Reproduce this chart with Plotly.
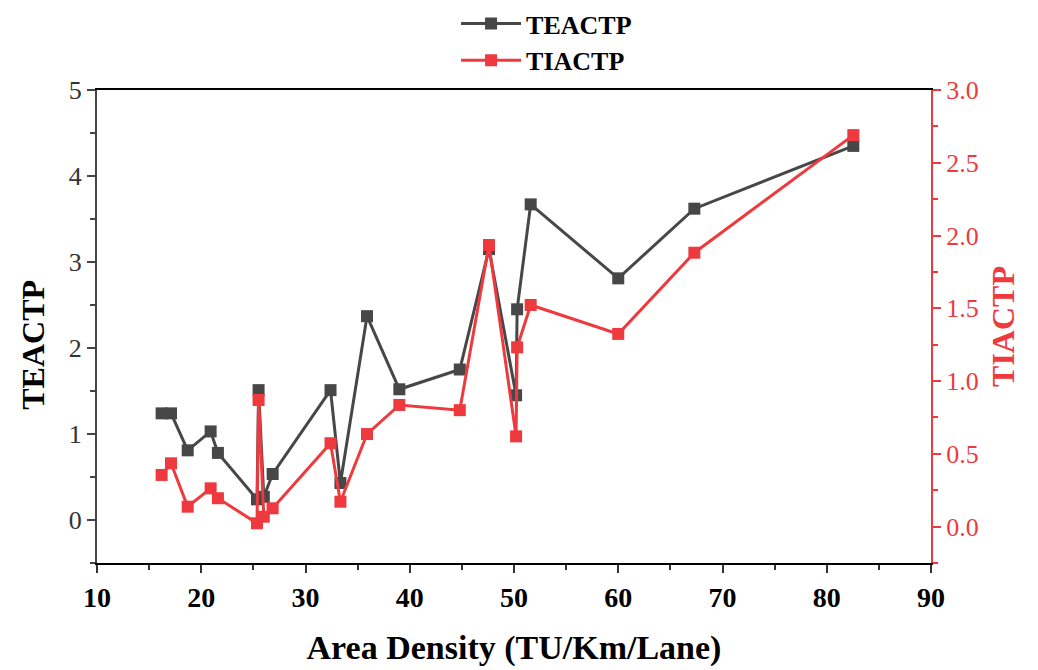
import plotly.graph_objects as go

area_density = [16.2, 17.1, 18.7, 20.9, 21.6, 25.35, 25.5, 26.0, 26.85, 32.4, 33.35,
                35.9, 39.0, 44.8, 47.6, 50.2, 50.3, 51.6, 60.0, 67.3, 82.55]
teactp = [1.24, 1.24, 0.81, 1.03, 0.78, 0.24, 1.51, 0.27, 0.535, 1.51, 0.43,
          2.37, 1.52, 1.75, 3.15, 1.45, 2.45, 3.67, 2.81, 3.62, 4.35]
tiactp = [0.355, 0.435, 0.137, 0.263, 0.195, 0.023, 0.87, 0.068, 0.126, 0.573, 0.171,
          0.636, 0.836, 0.80, 1.935, 0.62, 1.232, 1.523, 1.324, 1.882, 2.69]

DARK = "#474747"
RED = "#EE3A3E"
FONT = "Liberation Serif"

fig = go.Figure()
fig.add_trace(go.Scatter(x=area_density, y=teactp, name="TEACTP", mode="lines+markers",
                         line=dict(color=DARK, width=3),
                         marker=dict(symbol="square", size=12, color=DARK), yaxis="y"))
fig.add_trace(go.Scatter(x=area_density, y=tiactp, name="TIACTP", mode="lines+markers",
                         line=dict(color=RED, width=3),
                         marker=dict(symbol="square", size=12, color=RED), yaxis="y2"))

fig.update_layout(
    width=1030, height=662,
    margin=dict(l=89, r=107, t=82, b=107, autoexpand=False),
    paper_bgcolor="white", plot_bgcolor="white",
    font=dict(family=FONT, color="black"),
    showlegend=True,
    legend=dict(xref="container", x=0.435, xanchor="left",
                yref="paper", y=1.19, yanchor="top",
                font=dict(family=FONT, size=26, color="black", weight="bold"),
                bgcolor="rgba(0,0,0,0)", itemwidth=60, tracegroupgap=0),
    xaxis=dict(range=[10, 90], dtick=10, tick0=10, showgrid=False, zeroline=False,
               showline=True, linecolor="black", linewidth=2, mirror=True,
               ticks="outside", ticklen=8, tickwidth=2, tickcolor="#333",
               minor=dict(dtick=5, ticks="outside", ticklen=5, tickwidth=1.5, tickcolor="#333"),
               tickfont=dict(family=FONT, size=28, color="black", weight="bold"),
               title=dict(text="Area Density (TU/Km/Lane)", standoff=24,
                          font=dict(family=FONT, size=34, color="black", weight="bold"))),
    yaxis=dict(range=[-0.5, 5], dtick=1, tick0=0, showgrid=False, zeroline=False,
               showline=True, linecolor="#444", linewidth=2,
               ticks="outside", ticklen=8, tickwidth=2, tickcolor="#444",
               minor=dict(dtick=0.5, ticks="outside", ticklen=5, tickwidth=1.5, tickcolor="#444"),
               tickfont=dict(family=FONT, size=26, color="#333")),
    yaxis2=dict(range=[-0.25, 3], dtick=0.5, tick0=0, tickformat=".1f", overlaying="y",
                side="right", showgrid=False, zeroline=False,
                showline=True, linecolor=RED, linewidth=2,
                ticks="outside", ticklen=8, tickwidth=2, tickcolor=RED,
                minor=dict(dtick=0.25, ticks="outside", ticklen=5, tickwidth=1.5, tickcolor=RED),
                tickfont=dict(family=FONT, size=26, color=RED),
                title=dict(text="TIACTP", standoff=14,
                           font=dict(family=FONT, size=32, color=RED, weight="bold"))),
    annotations=[dict(text="TEACTP", xref="paper", yref="paper", x=-0.077, y=0.461,
                      xanchor="center", yanchor="middle", textangle=-90, showarrow=False,
                      font=dict(family=FONT, size=32, color="black", weight="bold"))],
)

fig.write_html("out.html")
